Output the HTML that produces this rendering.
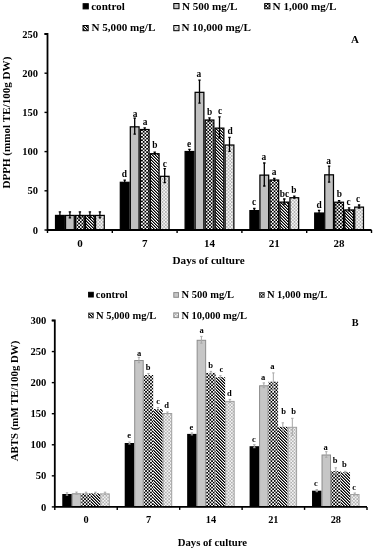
<!DOCTYPE html>
<html><head><meta charset="utf-8"><style>
html,body{margin:0;padding:0;background:#fff;}
svg{display:block;will-change:transform;filter:blur(0.3px);}
</style></head><body>
<svg width="373" height="550" viewBox="0 0 373 550">
<defs>
<pattern id="chkA" width="3.4" height="3.4" patternUnits="userSpaceOnUse"><rect width="3.4" height="3.4" fill="#000"/><rect width="1.7" height="1.7" fill="#fff"/><rect x="1.7" y="1.7" width="1.7" height="1.7" fill="#fff"/></pattern>
<pattern id="diagA" width="3" height="3" patternUnits="userSpaceOnUse" shape-rendering="crispEdges"><rect width="3" height="3" fill="#fff"/><rect x="0" y="0" width="1" height="1" fill="#000"/><rect x="1" y="1" width="1" height="1" fill="#000"/><rect x="2" y="2" width="1" height="1" fill="#000"/><rect x="1" y="0" width="1" height="1" fill="#777"/><rect x="2" y="1" width="1" height="1" fill="#777"/><rect x="0" y="2" width="1" height="1" fill="#777"/></pattern>
<pattern id="lightA" width="3.3" height="3.3" patternUnits="userSpaceOnUse"><rect width="3.3" height="3.3" fill="#f6f6f6"/><rect width="1.65" height="1.65" fill="#b0b0b0"/><rect x="1.65" y="1.65" width="1.65" height="1.65" fill="#b8b8b8"/></pattern>
<pattern id="chkB" width="3.3" height="3.3" patternUnits="userSpaceOnUse"><rect width="3.3" height="3.3" fill="#000"/><rect width="1.65" height="1.65" fill="#fff"/><rect x="1.65" y="1.65" width="1.65" height="1.65" fill="#fff"/></pattern>
<pattern id="diagB" width="3" height="3" patternUnits="userSpaceOnUse" shape-rendering="crispEdges"><rect width="3" height="3" fill="#fff"/><rect x="0" y="0" width="1" height="1" fill="#000"/><rect x="1" y="1" width="1" height="1" fill="#000"/><rect x="2" y="2" width="1" height="1" fill="#000"/><rect x="1" y="0" width="1" height="1" fill="#666"/><rect x="2" y="1" width="1" height="1" fill="#666"/><rect x="0" y="2" width="1" height="1" fill="#666"/></pattern>
<pattern id="lightB" width="3.3" height="3.3" patternUnits="userSpaceOnUse"><rect width="3.3" height="3.3" fill="#f4f4f4"/><rect width="1.65" height="1.65" fill="#b0b0b0"/><rect x="1.65" y="1.65" width="1.65" height="1.65" fill="#b8b8b8"/></pattern>
</defs>
<g font-family='"Liberation Serif", serif' font-weight="bold" fill="#000">
<rect x="55.53" y="215.43" width="8.75" height="14.57" fill="#000" stroke="#000" stroke-width="1.25"/>
<path d="M59.90 211.80V217.80M58.70 211.80H61.10M58.70 217.80H61.10" stroke="#000" stroke-width="1.3" fill="none"/>
<rect x="65.53" y="215.43" width="8.75" height="14.57" fill="#c0c0c0" stroke="#000" stroke-width="1.25"/>
<path d="M69.90 211.80V217.80M68.70 211.80H71.10M68.70 217.80H71.10" stroke="#000" stroke-width="1.3" fill="none"/>
<rect x="75.53" y="215.43" width="8.75" height="14.57" fill="url(#chkA)" stroke="#000" stroke-width="1.25"/>
<path d="M79.90 211.80V217.80M78.70 211.80H81.10M78.70 217.80H81.10" stroke="#000" stroke-width="1.3" fill="none"/>
<rect x="85.53" y="215.43" width="8.75" height="14.57" fill="url(#diagA)" stroke="#000" stroke-width="1.25"/>
<path d="M89.90 211.80V217.80M88.70 211.80H91.10M88.70 217.80H91.10" stroke="#000" stroke-width="1.3" fill="none"/>
<rect x="95.53" y="215.43" width="8.75" height="14.57" fill="url(#lightA)" stroke="#000" stroke-width="1.25"/>
<path d="M99.90 211.80V217.80M98.70 211.80H101.10M98.70 217.80H101.10" stroke="#000" stroke-width="1.3" fill="none"/>
<rect x="120.32" y="182.32" width="8.75" height="47.68" fill="#000" stroke="#000" stroke-width="1.25"/>
<path d="M124.70 180.20V183.20M123.50 180.20H125.90M123.50 183.20H125.90" stroke="#000" stroke-width="1.3" fill="none"/>
<text x="124.40" y="177" font-size="9.4" text-anchor="middle">d</text>
<rect x="130.32" y="126.83" width="8.75" height="103.17" fill="#c0c0c0" stroke="#000" stroke-width="1.25"/>
<path d="M134.70 118.20V134.20M133.50 118.20H135.90M133.50 134.20H135.90" stroke="#000" stroke-width="1.3" fill="none"/>
<text x="135.00" y="117" font-size="9.4" text-anchor="middle">a</text>
<rect x="140.32" y="129.53" width="8.75" height="100.47" fill="url(#chkA)" stroke="#000" stroke-width="1.25"/>
<path d="M144.70 127.90V129.90M143.50 127.90H145.90M143.50 129.90H145.90" stroke="#000" stroke-width="1.3" fill="none"/>
<text x="145.00" y="125" font-size="9.4" text-anchor="middle">a</text>
<rect x="150.32" y="153.72" width="8.75" height="76.28" fill="url(#diagA)" stroke="#000" stroke-width="1.25"/>
<path d="M154.70 152.10V154.10M153.50 152.10H155.90M153.50 154.10H155.90" stroke="#000" stroke-width="1.3" fill="none"/>
<text x="154.90" y="148" font-size="9.4" text-anchor="middle">b</text>
<rect x="160.32" y="176.32" width="8.75" height="53.68" fill="url(#lightA)" stroke="#000" stroke-width="1.25"/>
<path d="M164.70 168.70V182.70M163.50 168.70H165.90M163.50 182.70H165.90" stroke="#000" stroke-width="1.3" fill="none"/>
<text x="164.90" y="167" font-size="9.4" text-anchor="middle">c</text>
<rect x="185.12" y="151.53" width="8.75" height="78.47" fill="#000" stroke="#000" stroke-width="1.25"/>
<path d="M189.50 149.40V152.40M188.30 149.40H190.70M188.30 152.40H190.70" stroke="#000" stroke-width="1.3" fill="none"/>
<text x="189.00" y="147" font-size="9.4" text-anchor="middle">e</text>
<rect x="195.12" y="92.33" width="8.75" height="137.68" fill="#c0c0c0" stroke="#000" stroke-width="1.25"/>
<path d="M199.50 80.20V103.20M198.30 80.20H200.70M198.30 103.20H200.70" stroke="#000" stroke-width="1.3" fill="none"/>
<text x="198.90" y="77" font-size="9.4" text-anchor="middle">a</text>
<rect x="205.12" y="120.03" width="8.75" height="109.97" fill="url(#chkA)" stroke="#000" stroke-width="1.25"/>
<path d="M209.50 117.90V120.90M208.30 117.90H210.70M208.30 120.90H210.70" stroke="#000" stroke-width="1.3" fill="none"/>
<text x="209.60" y="115" font-size="9.4" text-anchor="middle">b</text>
<rect x="215.12" y="128.12" width="8.75" height="101.88" fill="url(#diagA)" stroke="#000" stroke-width="1.25"/>
<path d="M219.50 116.90V138.10M218.30 116.90H220.70M218.30 138.10H220.70" stroke="#000" stroke-width="1.3" fill="none"/>
<text x="220.20" y="114" font-size="9.4" text-anchor="middle">c</text>
<rect x="225.12" y="145.03" width="8.75" height="84.97" fill="url(#lightA)" stroke="#000" stroke-width="1.25"/>
<path d="M229.50 137.40V151.40M228.30 137.40H230.70M228.30 151.40H230.70" stroke="#000" stroke-width="1.3" fill="none"/>
<text x="230.20" y="134" font-size="9.4" text-anchor="middle">d</text>
<rect x="249.92" y="210.62" width="8.75" height="19.38" fill="#000" stroke="#000" stroke-width="1.25"/>
<path d="M254.30 208.50V211.50M253.10 208.50H255.50M253.10 211.50H255.50" stroke="#000" stroke-width="1.3" fill="none"/>
<text x="254.10" y="205" font-size="9.4" text-anchor="middle">c</text>
<rect x="259.92" y="175.12" width="8.75" height="54.88" fill="#c0c0c0" stroke="#000" stroke-width="1.25"/>
<path d="M264.30 163.00V186.00M263.10 163.00H265.50M263.10 186.00H265.50" stroke="#000" stroke-width="1.3" fill="none"/>
<text x="263.90" y="160" font-size="9.4" text-anchor="middle">a</text>
<rect x="269.92" y="180.03" width="8.75" height="49.97" fill="url(#chkA)" stroke="#000" stroke-width="1.25"/>
<path d="M274.30 178.40V180.40M273.10 178.40H275.50M273.10 180.40H275.50" stroke="#000" stroke-width="1.3" fill="none"/>
<text x="274.00" y="175" font-size="9.4" text-anchor="middle">a</text>
<rect x="279.92" y="202.12" width="8.75" height="27.88" fill="url(#diagA)" stroke="#000" stroke-width="1.25"/>
<path d="M284.30 199.00V204.00M283.10 199.00H285.50M283.10 204.00H285.50" stroke="#000" stroke-width="1.3" fill="none"/>
<text x="284.50" y="197" font-size="9.4" text-anchor="middle">bc</text>
<rect x="289.92" y="197.72" width="8.75" height="32.28" fill="url(#lightA)" stroke="#000" stroke-width="1.25"/>
<path d="M294.30 196.10V198.10M293.10 196.10H295.50M293.10 198.10H295.50" stroke="#000" stroke-width="1.3" fill="none"/>
<text x="293.80" y="193" font-size="9.4" text-anchor="middle">b</text>
<rect x="314.72" y="213.03" width="8.75" height="16.97" fill="#000" stroke="#000" stroke-width="1.25"/>
<path d="M319.10 210.40V214.40M317.90 210.40H320.30M317.90 214.40H320.30" stroke="#000" stroke-width="1.3" fill="none"/>
<text x="319.10" y="208" font-size="9.4" text-anchor="middle">d</text>
<rect x="324.72" y="174.82" width="8.75" height="55.18" fill="#c0c0c0" stroke="#000" stroke-width="1.25"/>
<path d="M329.10 166.20V182.20M327.90 166.20H330.30M327.90 182.20H330.30" stroke="#000" stroke-width="1.3" fill="none"/>
<text x="328.70" y="164" font-size="9.4" text-anchor="middle">a</text>
<rect x="334.72" y="202.22" width="8.75" height="27.78" fill="url(#chkA)" stroke="#000" stroke-width="1.25"/>
<path d="M339.10 200.60V202.60M337.90 200.60H340.30M337.90 202.60H340.30" stroke="#000" stroke-width="1.3" fill="none"/>
<text x="339.40" y="197" font-size="9.4" text-anchor="middle">b</text>
<rect x="344.72" y="209.93" width="8.75" height="20.07" fill="url(#diagA)" stroke="#000" stroke-width="1.25"/>
<path d="M349.10 207.80V210.80M347.90 207.80H350.30M347.90 210.80H350.30" stroke="#000" stroke-width="1.3" fill="none"/>
<text x="348.60" y="205" font-size="9.4" text-anchor="middle">c</text>
<rect x="354.72" y="207.12" width="8.75" height="22.88" fill="url(#lightA)" stroke="#000" stroke-width="1.25"/>
<path d="M359.10 205.00V208.00M357.90 205.00H360.30M357.90 208.00H360.30" stroke="#000" stroke-width="1.3" fill="none"/>
<text x="358.20" y="202" font-size="9.4" text-anchor="middle">c</text>
<path d="M44.50 34.00H47.50V230.00H371.50" stroke="#000" stroke-width="1.8" fill="none"/>
<path d="M44.50 230.00H47.50" stroke="#000" stroke-width="1.4"/>
<text x="38.00" y="233.60" font-size="10.5" text-anchor="end">0</text>
<path d="M44.50 190.80H47.50" stroke="#000" stroke-width="1.4"/>
<text x="38.00" y="194.40" font-size="10.5" text-anchor="end">50</text>
<path d="M44.50 151.60H47.50" stroke="#000" stroke-width="1.4"/>
<text x="38.00" y="155.20" font-size="10.5" text-anchor="end">100</text>
<path d="M44.50 112.40H47.50" stroke="#000" stroke-width="1.4"/>
<text x="38.00" y="116.00" font-size="10.5" text-anchor="end">150</text>
<path d="M44.50 73.20H47.50" stroke="#000" stroke-width="1.4"/>
<text x="38.00" y="76.80" font-size="10.5" text-anchor="end">200</text>
<path d="M44.50 34.00H47.50" stroke="#000" stroke-width="1.4"/>
<text x="38.00" y="37.60" font-size="10.5" text-anchor="end">250</text>
<path d="M47.50 230.00V233.00" stroke="#000" stroke-width="1.4"/>
<path d="M112.30 230.00V233.00" stroke="#000" stroke-width="1.4"/>
<path d="M177.10 230.00V233.00" stroke="#000" stroke-width="1.4"/>
<path d="M241.90 230.00V233.00" stroke="#000" stroke-width="1.4"/>
<path d="M306.70 230.00V233.00" stroke="#000" stroke-width="1.4"/>
<path d="M371.50 230.00V233.00" stroke="#000" stroke-width="1.4"/>
<rect x="62.27" y="494.00" width="9.50" height="12.90" fill="#000"/>
<path d="M67.02 492.80V495.20M65.82 492.80H68.22M65.82 495.20H68.22" stroke="#a8a8a8" stroke-width="1.0" fill="none"/>
<rect x="72.27" y="493.80" width="8.50" height="13.10" fill="#c6c6c6" stroke="#8c8c8c" stroke-width="1"/>
<path d="M76.52 492.10V494.50M75.32 492.10H77.72M75.32 494.50H77.72" stroke="#a8a8a8" stroke-width="1.0" fill="none"/>
<rect x="81.27" y="493.40" width="9.50" height="13.50" fill="url(#chkB)"/>
<path d="M86.02 492.20V494.60M84.82 492.20H87.22M84.82 494.60H87.22" stroke="#a8a8a8" stroke-width="1.0" fill="none"/>
<rect x="90.77" y="493.40" width="9.50" height="13.50" fill="url(#diagB)"/>
<path d="M95.52 492.20V494.60M94.32 492.20H96.72M94.32 494.60H96.72" stroke="#a8a8a8" stroke-width="1.0" fill="none"/>
<rect x="100.77" y="493.90" width="8.50" height="13.00" fill="url(#lightB)" stroke="#a0a0a0" stroke-width="1"/>
<path d="M105.02 492.20V494.60M103.82 492.20H106.22M103.82 494.60H106.22" stroke="#a8a8a8" stroke-width="1.0" fill="none"/>
<rect x="124.71" y="443.00" width="9.50" height="63.90" fill="#000"/>
<path d="M129.46 442.00V444.00M128.26 442.00H130.66M128.26 444.00H130.66" stroke="#a8a8a8" stroke-width="1.0" fill="none"/>
<text x="129.10" y="438" font-size="8.5" text-anchor="middle">e</text>
<rect x="134.71" y="360.50" width="8.50" height="146.40" fill="#c6c6c6" stroke="#8c8c8c" stroke-width="1"/>
<path d="M138.96 357.30V362.70M137.76 357.30H140.16M137.76 362.70H140.16" stroke="#a8a8a8" stroke-width="1.0" fill="none"/>
<text x="139.00" y="356" font-size="8.5" text-anchor="middle">a</text>
<rect x="143.71" y="375.00" width="9.50" height="131.90" fill="url(#chkB)"/>
<path d="M148.46 373.50V376.50M147.26 373.50H149.66M147.26 376.50H149.66" stroke="#a8a8a8" stroke-width="1.0" fill="none"/>
<text x="148.20" y="370" font-size="8.5" text-anchor="middle">b</text>
<rect x="153.21" y="409.00" width="9.50" height="97.90" fill="url(#diagB)"/>
<path d="M157.96 407.50V410.50M156.76 407.50H159.16M156.76 410.50H159.16" stroke="#a8a8a8" stroke-width="1.0" fill="none"/>
<text x="158.10" y="404" font-size="8.5" text-anchor="middle">c</text>
<rect x="163.21" y="413.50" width="8.50" height="93.40" fill="url(#lightB)" stroke="#a0a0a0" stroke-width="1"/>
<path d="M167.46 412.00V414.00M166.26 412.00H168.66M166.26 414.00H168.66" stroke="#a8a8a8" stroke-width="1.0" fill="none"/>
<text x="166.50" y="408" font-size="8.5" text-anchor="middle">d</text>
<rect x="187.15" y="433.90" width="9.50" height="73.00" fill="#000"/>
<path d="M191.90 432.90V434.90M190.70 432.90H193.10M190.70 434.90H193.10" stroke="#a8a8a8" stroke-width="1.0" fill="none"/>
<text x="191.50" y="430" font-size="8.5" text-anchor="middle">e</text>
<rect x="197.15" y="340.30" width="8.50" height="166.60" fill="#c6c6c6" stroke="#8c8c8c" stroke-width="1"/>
<path d="M201.40 336.40V343.20M200.20 336.40H202.60M200.20 343.20H202.60" stroke="#a8a8a8" stroke-width="1.0" fill="none"/>
<text x="201.50" y="333" font-size="8.5" text-anchor="middle">a</text>
<rect x="206.15" y="372.90" width="9.50" height="134.00" fill="url(#chkB)"/>
<path d="M210.90 371.40V374.40M209.70 371.40H212.10M209.70 374.40H212.10" stroke="#a8a8a8" stroke-width="1.0" fill="none"/>
<text x="210.60" y="368" font-size="8.5" text-anchor="middle">b</text>
<rect x="215.65" y="377.20" width="9.50" height="129.70" fill="url(#diagB)"/>
<path d="M220.40 375.70V378.70M219.20 375.70H221.60M219.20 378.70H221.60" stroke="#a8a8a8" stroke-width="1.0" fill="none"/>
<text x="221.40" y="372" font-size="8.5" text-anchor="middle">c</text>
<rect x="225.65" y="401.40" width="8.50" height="105.50" fill="url(#lightB)" stroke="#a0a0a0" stroke-width="1"/>
<path d="M229.90 399.40V402.40M228.70 399.40H231.10M228.70 402.40H231.10" stroke="#a8a8a8" stroke-width="1.0" fill="none"/>
<text x="229.30" y="396" font-size="8.5" text-anchor="middle">d</text>
<rect x="249.59" y="446.20" width="9.50" height="60.70" fill="#000"/>
<path d="M254.34 444.70V447.70M253.14 444.70H255.54M253.14 447.70H255.54" stroke="#a8a8a8" stroke-width="1.0" fill="none"/>
<text x="253.90" y="442" font-size="8.5" text-anchor="middle">c</text>
<rect x="259.59" y="385.80" width="8.50" height="121.10" fill="#c6c6c6" stroke="#8c8c8c" stroke-width="1"/>
<path d="M263.84 382.90V387.70M262.64 382.90H265.04M262.64 387.70H265.04" stroke="#a8a8a8" stroke-width="1.0" fill="none"/>
<text x="263.10" y="380" font-size="8.5" text-anchor="middle">a</text>
<rect x="268.59" y="381.70" width="9.50" height="125.20" fill="url(#chkB)"/>
<path d="M273.34 372.90V390.50M272.14 372.90H274.54M272.14 390.50H274.54" stroke="#a8a8a8" stroke-width="1.0" fill="none"/>
<text x="272.40" y="369" font-size="8.5" text-anchor="middle">a</text>
<rect x="278.09" y="426.80" width="9.50" height="80.10" fill="url(#diagB)"/>
<path d="M282.84 422.80V430.80M281.64 422.80H284.04M281.64 430.80H284.04" stroke="#a8a8a8" stroke-width="1.0" fill="none"/>
<text x="283.70" y="414" font-size="8.5" text-anchor="middle">b</text>
<rect x="288.09" y="427.30" width="8.50" height="79.60" fill="url(#lightB)" stroke="#a0a0a0" stroke-width="1"/>
<path d="M292.34 418.30V435.30M291.14 418.30H293.54M291.14 435.30H293.54" stroke="#a8a8a8" stroke-width="1.0" fill="none"/>
<text x="293.50" y="414" font-size="8.5" text-anchor="middle">b</text>
<rect x="312.03" y="490.70" width="9.50" height="16.20" fill="#000"/>
<path d="M316.78 489.70V491.70M315.58 489.70H317.98M315.58 491.70H317.98" stroke="#a8a8a8" stroke-width="1.0" fill="none"/>
<text x="316.00" y="486" font-size="8.5" text-anchor="middle">c</text>
<rect x="322.03" y="455.00" width="8.50" height="51.90" fill="#c6c6c6" stroke="#8c8c8c" stroke-width="1"/>
<path d="M326.28 451.70V457.30M325.08 451.70H327.48M325.08 457.30H327.48" stroke="#a8a8a8" stroke-width="1.0" fill="none"/>
<text x="325.60" y="450" font-size="8.5" text-anchor="middle">a</text>
<rect x="331.03" y="471.20" width="9.50" height="35.70" fill="url(#chkB)"/>
<path d="M335.78 467.80V474.60M334.58 467.80H336.98M334.58 474.60H336.98" stroke="#a8a8a8" stroke-width="1.0" fill="none"/>
<text x="335.00" y="463" font-size="8.5" text-anchor="middle">b</text>
<rect x="340.53" y="472.30" width="9.50" height="34.60" fill="url(#diagB)"/>
<path d="M345.28 471.30V473.30M344.08 471.30H346.48M344.08 473.30H346.48" stroke="#a8a8a8" stroke-width="1.0" fill="none"/>
<text x="344.40" y="467" font-size="8.5" text-anchor="middle">b</text>
<rect x="350.53" y="494.50" width="8.50" height="12.40" fill="url(#lightB)" stroke="#a0a0a0" stroke-width="1"/>
<path d="M354.78 493.00V495.00M353.58 493.00H355.98M353.58 495.00H355.98" stroke="#a8a8a8" stroke-width="1.0" fill="none"/>
<text x="354.10" y="490" font-size="8.5" text-anchor="middle">c</text>
<path d="M51.80 320.50H54.80V506.90H367.00" stroke="#000" stroke-width="1.8" fill="none"/>
<path d="M51.80 506.90H54.80" stroke="#000" stroke-width="1.4"/>
<text x="46.40" y="510.50" font-size="10.6" text-anchor="end">0</text>
<path d="M51.80 475.83H54.80" stroke="#000" stroke-width="1.4"/>
<text x="46.40" y="479.43" font-size="10.6" text-anchor="end">50</text>
<path d="M51.80 444.77H54.80" stroke="#000" stroke-width="1.4"/>
<text x="46.40" y="448.37" font-size="10.6" text-anchor="end">100</text>
<path d="M51.80 413.70H54.80" stroke="#000" stroke-width="1.4"/>
<text x="46.40" y="417.30" font-size="10.6" text-anchor="end">150</text>
<path d="M51.80 382.63H54.80" stroke="#000" stroke-width="1.4"/>
<text x="46.40" y="386.23" font-size="10.6" text-anchor="end">200</text>
<path d="M51.80 351.57H54.80" stroke="#000" stroke-width="1.4"/>
<text x="46.40" y="355.17" font-size="10.6" text-anchor="end">250</text>
<path d="M51.80 320.50H54.80" stroke="#000" stroke-width="1.4"/>
<text x="46.40" y="324.10" font-size="10.6" text-anchor="end">300</text>
<path d="M54.80 506.90V509.90" stroke="#000" stroke-width="1.4"/>
<path d="M117.24 506.90V509.90" stroke="#000" stroke-width="1.4"/>
<path d="M179.68 506.90V509.90" stroke="#000" stroke-width="1.4"/>
<path d="M242.12 506.90V509.90" stroke="#000" stroke-width="1.4"/>
<path d="M304.56 506.90V509.90" stroke="#000" stroke-width="1.4"/>
<path d="M367.00 506.90V509.90" stroke="#000" stroke-width="1.4"/>
<rect x="83.10" y="3.70" width="5.20" height="5.20" fill="#000" stroke="#000" stroke-width="1"/>
<text x="91.2" y="10" font-size="11.1">control</text>
<rect x="173.80" y="3.50" width="5.20" height="5.20" fill="#c0c0c0" stroke="#000" stroke-width="1"/>
<text x="181.9" y="10" font-size="11.1">N 500 mg/L</text>
<rect x="264.70" y="3.60" width="5.20" height="5.20" fill="url(#chkA)" stroke="#000" stroke-width="1"/>
<text x="272.6" y="10" font-size="11.1">N 1,000 mg/L</text>
<rect x="83.00" y="25.50" width="5.20" height="5.20" fill="url(#diagA)" stroke="#000" stroke-width="1"/>
<text x="91.5" y="30.8" font-size="11.1">N 5,000 mg/L</text>
<rect x="173.80" y="25.50" width="5.20" height="5.20" fill="url(#lightA)" stroke="#000" stroke-width="1"/>
<text x="181.5" y="30.8" font-size="11.1">N 10,000 mg/L</text>
<rect x="88.60" y="292.30" width="4.70" height="4.70" fill="#000" stroke="#000" stroke-width="1"/>
<text x="95.8" y="297.6" font-size="10.5">control</text>
<rect x="173.80" y="292.60" width="4.70" height="4.70" fill="#c6c6c6" stroke="#8c8c8c" stroke-width="1"/>
<text x="181.6" y="297.6" font-size="10.5">N 500 mg/L</text>
<rect x="259.50" y="292.60" width="4.70" height="4.70" fill="url(#chkB)" stroke="#444" stroke-width="1"/>
<text x="266.9" y="297.6" font-size="10.5">N 1,000 mg/L</text>
<rect x="88.60" y="313.10" width="4.70" height="4.70" fill="url(#diagB)" stroke="#444" stroke-width="1"/>
<text x="96.0" y="319" font-size="10.5">N 5,000 mg/L</text>
<rect x="173.80" y="312.90" width="4.70" height="4.70" fill="url(#lightB)" stroke="#888" stroke-width="1"/>
<text x="181.4" y="319" font-size="10.5">N 10,000 mg/L</text>
<text x="351" y="43.3" font-size="11">A</text>
<text x="351.7" y="326.2" font-size="10.3">B</text>
<text x="79.90" y="246.7" font-size="11" text-anchor="middle">0</text>
<text x="86.02" y="523.4" font-size="10.3" text-anchor="middle">0</text>
<text x="144.70" y="246.7" font-size="11" text-anchor="middle">7</text>
<text x="148.46" y="523.4" font-size="10.3" text-anchor="middle">7</text>
<text x="209.50" y="246.7" font-size="11" text-anchor="middle">14</text>
<text x="210.90" y="523.4" font-size="10.3" text-anchor="middle">14</text>
<text x="274.30" y="246.7" font-size="11" text-anchor="middle">21</text>
<text x="273.34" y="523.4" font-size="10.3" text-anchor="middle">21</text>
<text x="339.10" y="246.7" font-size="11" text-anchor="middle">28</text>
<text x="335.78" y="523.4" font-size="10.3" text-anchor="middle">28</text>
<text x="208.65" y="264.4" font-size="11.15" text-anchor="middle">Days of culture</text>
<text x="212.4" y="545.9" font-size="10.7" text-anchor="middle">Days of culture</text>
<text transform="translate(10.2,122.6) rotate(-90)" font-size="11.1" text-anchor="middle">DPPH (mmol TE/100g DW)</text>
<text transform="translate(18.1,401.0) rotate(-90)" font-size="10.85" text-anchor="middle">ABTS (mM TE/100g DW)</text>
</g>
</svg>
</body></html>
